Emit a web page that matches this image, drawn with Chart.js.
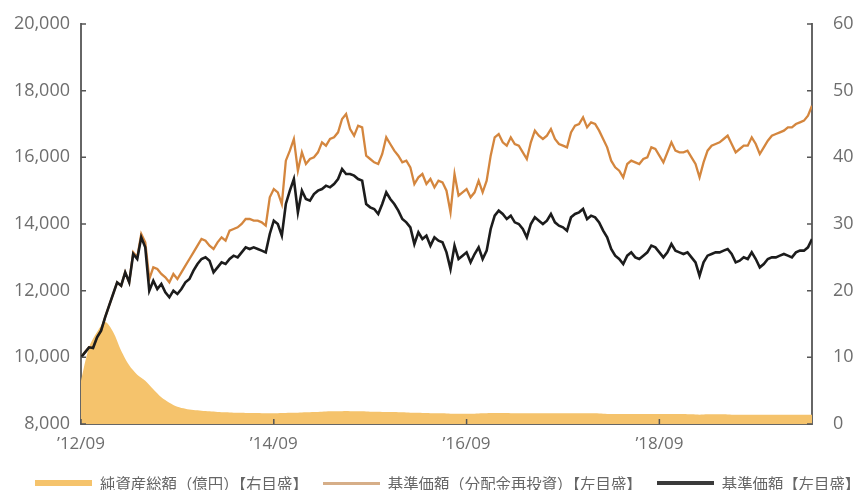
<!DOCTYPE html>
<html>
<head>
<meta charset="utf-8">
<script src="https://cdn.jsdelivr.net/npm/chart.js@4.4.1/dist/chart.umd.min.js"></script>
<style>
  body { margin: 0; background: #fff; }
  #wrap { position: relative; width: 855px; height: 490px; }
  #legend { position: absolute; left: 35px; top: 472px; display: flex; align-items: center;
    font-family: "Noto Sans CJK JP", sans-serif; font-size: 15.4px; color: #666; white-space: nowrap; }
  #legend .sw { display: inline-block; width: 57px; margin-right: 8px; }
  #legend .item { display: flex; align-items: center; margin-right: 15px; }
</style>
</head>
<body>
<div id="wrap">
  <canvas id="chart" width="855" height="490"></canvas>
  <div id="legend"></div>
</div>
<script>
// x axis ticks (months since 2012/09)
const xTickMonths = [0, 24, 48, 72];
const xTickLabels = ["’12/09", "’14/09", "’16/09", "’18/09"];

const seriesNames = ["純資産総額（億円）【右目盛】", "基準価額（分配金再投資）【左目盛】", "基準価額【左目盛】"];

// 純資産総額 (億円), one value per month from 2012/09
const netAssets = [
  6.5, 11.5, 13.8, 15.3, 13.8, 11.0, 8.8, 7.4, 6.5, 5.2,
  4.0, 3.2, 2.6, 2.3, 2.1, 2.0, 1.9, 1.8, 1.75, 1.7,
  1.7, 1.65, 1.65, 1.6, 1.6, 1.65, 1.7, 1.7, 1.75, 1.8,
  1.85, 1.9, 1.9, 1.95, 1.9, 1.9, 1.85, 1.85, 1.8, 1.8,
  1.75, 1.7, 1.7, 1.65, 1.6, 1.6, 1.55, 1.55, 1.55, 1.55,
  1.6, 1.65, 1.65, 1.65, 1.6, 1.6, 1.6, 1.6, 1.6, 1.6,
  1.6, 1.6, 1.6, 1.6, 1.6, 1.55, 1.5, 1.5, 1.5, 1.5,
  1.5, 1.5, 1.5, 1.5, 1.5, 1.5, 1.45, 1.4, 1.45, 1.45,
  1.45, 1.4, 1.4, 1.4, 1.4, 1.4, 1.4, 1.4, 1.4, 1.4,
  1.4, 1.4
];

// 基準価額（分配金再投資）, two values per month
const navReinvest = [
  10000, 10150, 10300, 10280, 10600, 10800, 11200, 11550, 11900, 12250,
  12150, 12550, 12250, 13150, 13000, 13700, 13450, 12350, 12700, 12650,
  12500, 12400, 12250, 12500, 12350, 12550, 12750, 12950, 13150, 13350,
  13550, 13500, 13350, 13250, 13450, 13600, 13500, 13800, 13850, 13900,
  14000, 14150, 14150, 14100, 14100, 14050, 13950, 14800, 15050, 14950,
  14600, 15900, 16200, 16550, 15600, 16150, 15800, 15950, 16000, 16150,
  16450, 16350, 16550, 16600, 16750, 17150, 17300, 16850, 16650, 16950,
  16900, 16050, 15950, 15850, 15800, 16100, 16600, 16400, 16200, 16050,
  15850, 15900, 15700, 15200, 15400, 15500, 15200, 15350, 15100, 15300,
  15250, 15000, 14350, 15500, 14850, 14950, 15050, 14800, 14950, 15300,
  14950, 15300, 16050, 16600, 16700, 16450, 16350, 16600, 16400, 16350,
  16150, 15950, 16450, 16800, 16650, 16550, 16650, 16850, 16550, 16400,
  16350, 16300, 16750, 16950, 17000, 17200, 16900, 17050, 17000, 16800,
  16550, 16300, 15900, 15700, 15600, 15400, 15800, 15900, 15850, 15800,
  15950, 16000, 16300, 16250, 16050, 15850, 16150, 16450, 16200, 16150,
  16150, 16200, 16000, 15800, 15400, 15850, 16200, 16350, 16400, 16450,
  16550, 16650, 16400, 16150, 16250, 16350, 16350, 16600, 16400, 16100,
  16300, 16500, 16650, 16700, 16750, 16800, 16900, 16900, 17000, 17050,
  17100, 17250, 17550
];

// 基準価額, two values per month
const navBase = [
  10000, 10150, 10300, 10280, 10600, 10800, 11200, 11550, 11900, 12250,
  12150, 12550, 12250, 13100, 12950, 13600, 13300, 12000, 12300, 12050,
  12200, 11950, 11800, 12000, 11900, 12050, 12250, 12350, 12600, 12800,
  12950, 13000, 12900, 12550, 12700, 12850, 12800, 12950, 13050, 13000,
  13150, 13300, 13250, 13300, 13250, 13200, 13150, 13700, 14100, 14000,
  13650, 14600, 15000, 15350, 14350, 15000, 14750, 14700, 14900, 15000,
  15050, 15150, 15100, 15200, 15350, 15650, 15500, 15500, 15450, 15350,
  15300, 14600, 14500, 14450, 14300, 14600, 14950, 14750, 14600, 14400,
  14150, 14050, 13900, 13400, 13750, 13550, 13650, 13350, 13600, 13500,
  13450, 13150, 12650, 13350, 12950, 13050, 13150, 12850, 13100, 13300,
  12950, 13200, 13850, 14250, 14400, 14300, 14150, 14250, 14050, 14000,
  13850, 13600, 14000, 14200, 14100, 14000, 14100, 14300, 14050, 13950,
  13900, 13800, 14200, 14300, 14350, 14450, 14150, 14250, 14200, 14050,
  13800, 13600, 13250, 13050, 12950, 12800, 13050, 13150, 13000, 12950,
  13050, 13150, 13350, 13300, 13150, 13000, 13150, 13400, 13200, 13150,
  13100, 13150, 13000, 12850, 12450, 12850, 13050, 13100, 13150, 13150,
  13200, 13250, 13100, 12850, 12900, 13000, 12950, 13150, 12950, 12700,
  12800, 12950, 13000, 13000, 13050, 13100, 13050, 13000, 13150, 13200,
  13200, 13300, 13550
];

const colors = ["#F5C36C", "#D4863E", "#1c1c1c"];
const legendColors = ["#F5C36C", "#D6AE88", "#3a3a3a"];
const legendThickness = [6, 3, 4];

Chart.defaults.font.family = "'Open Sans', 'Noto Sans CJK JP', sans-serif";
Chart.defaults.color = "#6e6e6e";

// inward tick marks like the original
const inwardTicks = {
  id: "inwardTicks",
  afterDraw(chart) {
    const { ctx, chartArea: a, scales } = chart;
    ctx.save();
    ctx.strokeStyle = "#555";
    ctx.lineWidth = 1.5;
    ctx.beginPath();
    scales.y.ticks.forEach(t => {
      const y = scales.y.getPixelForValue(t.value);
      ctx.moveTo(a.left, y); ctx.lineTo(a.left + 5, y);
    });
    scales.y1.ticks.forEach(t => {
      const y = scales.y1.getPixelForValue(t.value);
      ctx.moveTo(a.right, y); ctx.lineTo(a.right - 5, y);
    });
    scales.x.ticks.forEach(t => {
      const x = scales.x.getPixelForValue(t.value);
      ctx.moveTo(x, a.bottom); ctx.lineTo(x, a.bottom - 5);
    });
    ctx.stroke();
    ctx.restore();
  }
};

const toPoints = (arr, step) => arr.map((v, i) => ({ x: i * step, y: v }));

new Chart(document.getElementById("chart"), {
  type: "line",
  data: {
    datasets: [
      { label: seriesNames[0], data: toPoints(netAssets, 1), yAxisID: "y1", fill: "origin",
        backgroundColor: colors[0], borderWidth: 0, pointRadius: 0, tension: 0.3, order: 3 },
      { label: seriesNames[1], data: toPoints(navReinvest, 0.5), yAxisID: "y",
        borderColor: colors[1], borderWidth: 2.3, pointRadius: 0, order: 2 },
      { label: seriesNames[2], data: toPoints(navBase, 0.5), yAxisID: "y",
        borderColor: colors[2], borderWidth: 2.6, pointRadius: 0, order: 1 }
    ]
  },
  options: {
    responsive: false,
    animation: false,
    layout: { padding: { top: 24, left: 0, right: 0, bottom: 0 } },
    plugins: { legend: { display: false }, tooltip: { enabled: false } },
    scales: {
      x: {
        type: "linear", min: 0, max: 91,
        grid: { display: false },
        border: { color: "#666", width: 2 },
        afterBuildTicks: axis => { axis.ticks = xTickMonths.map(v => ({ value: v })); },
        ticks: { padding: 2, font: { size: 17 }, callback: v => xTickLabels[xTickMonths.indexOf(v)] },
        afterFit: s => { s.height = 66; }
      },
      y: {
        position: "left", min: 8000, max: 20000,
        grid: { display: false },
        border: { color: "#666", width: 2 },
        ticks: { stepSize: 2000, padding: 3, font: { size: 18 }, callback: v => v.toLocaleString("en-US") },
        afterFit: s => { s.width = 81; }
      },
      y1: {
        position: "right", min: 0, max: 60,
        grid: { display: false },
        border: { color: "#666", width: 2 },
        ticks: { stepSize: 10, padding: 13, font: { size: 18 } },
        afterFit: s => { s.width = 43; }
      }
    }
  },
  plugins: [inwardTicks]
});

// legend
const legendEl = document.getElementById("legend");
seriesNames.forEach((name, i) => {
  const item = document.createElement("span");
  item.className = "item";
  const sw = document.createElement("span");
  sw.className = "sw";
  sw.style.height = legendThickness[i] + "px";
  sw.style.background = legendColors[i];
  item.appendChild(sw);
  item.appendChild(document.createTextNode(name));
  legendEl.appendChild(item);
});
</script>
</body>
</html>
